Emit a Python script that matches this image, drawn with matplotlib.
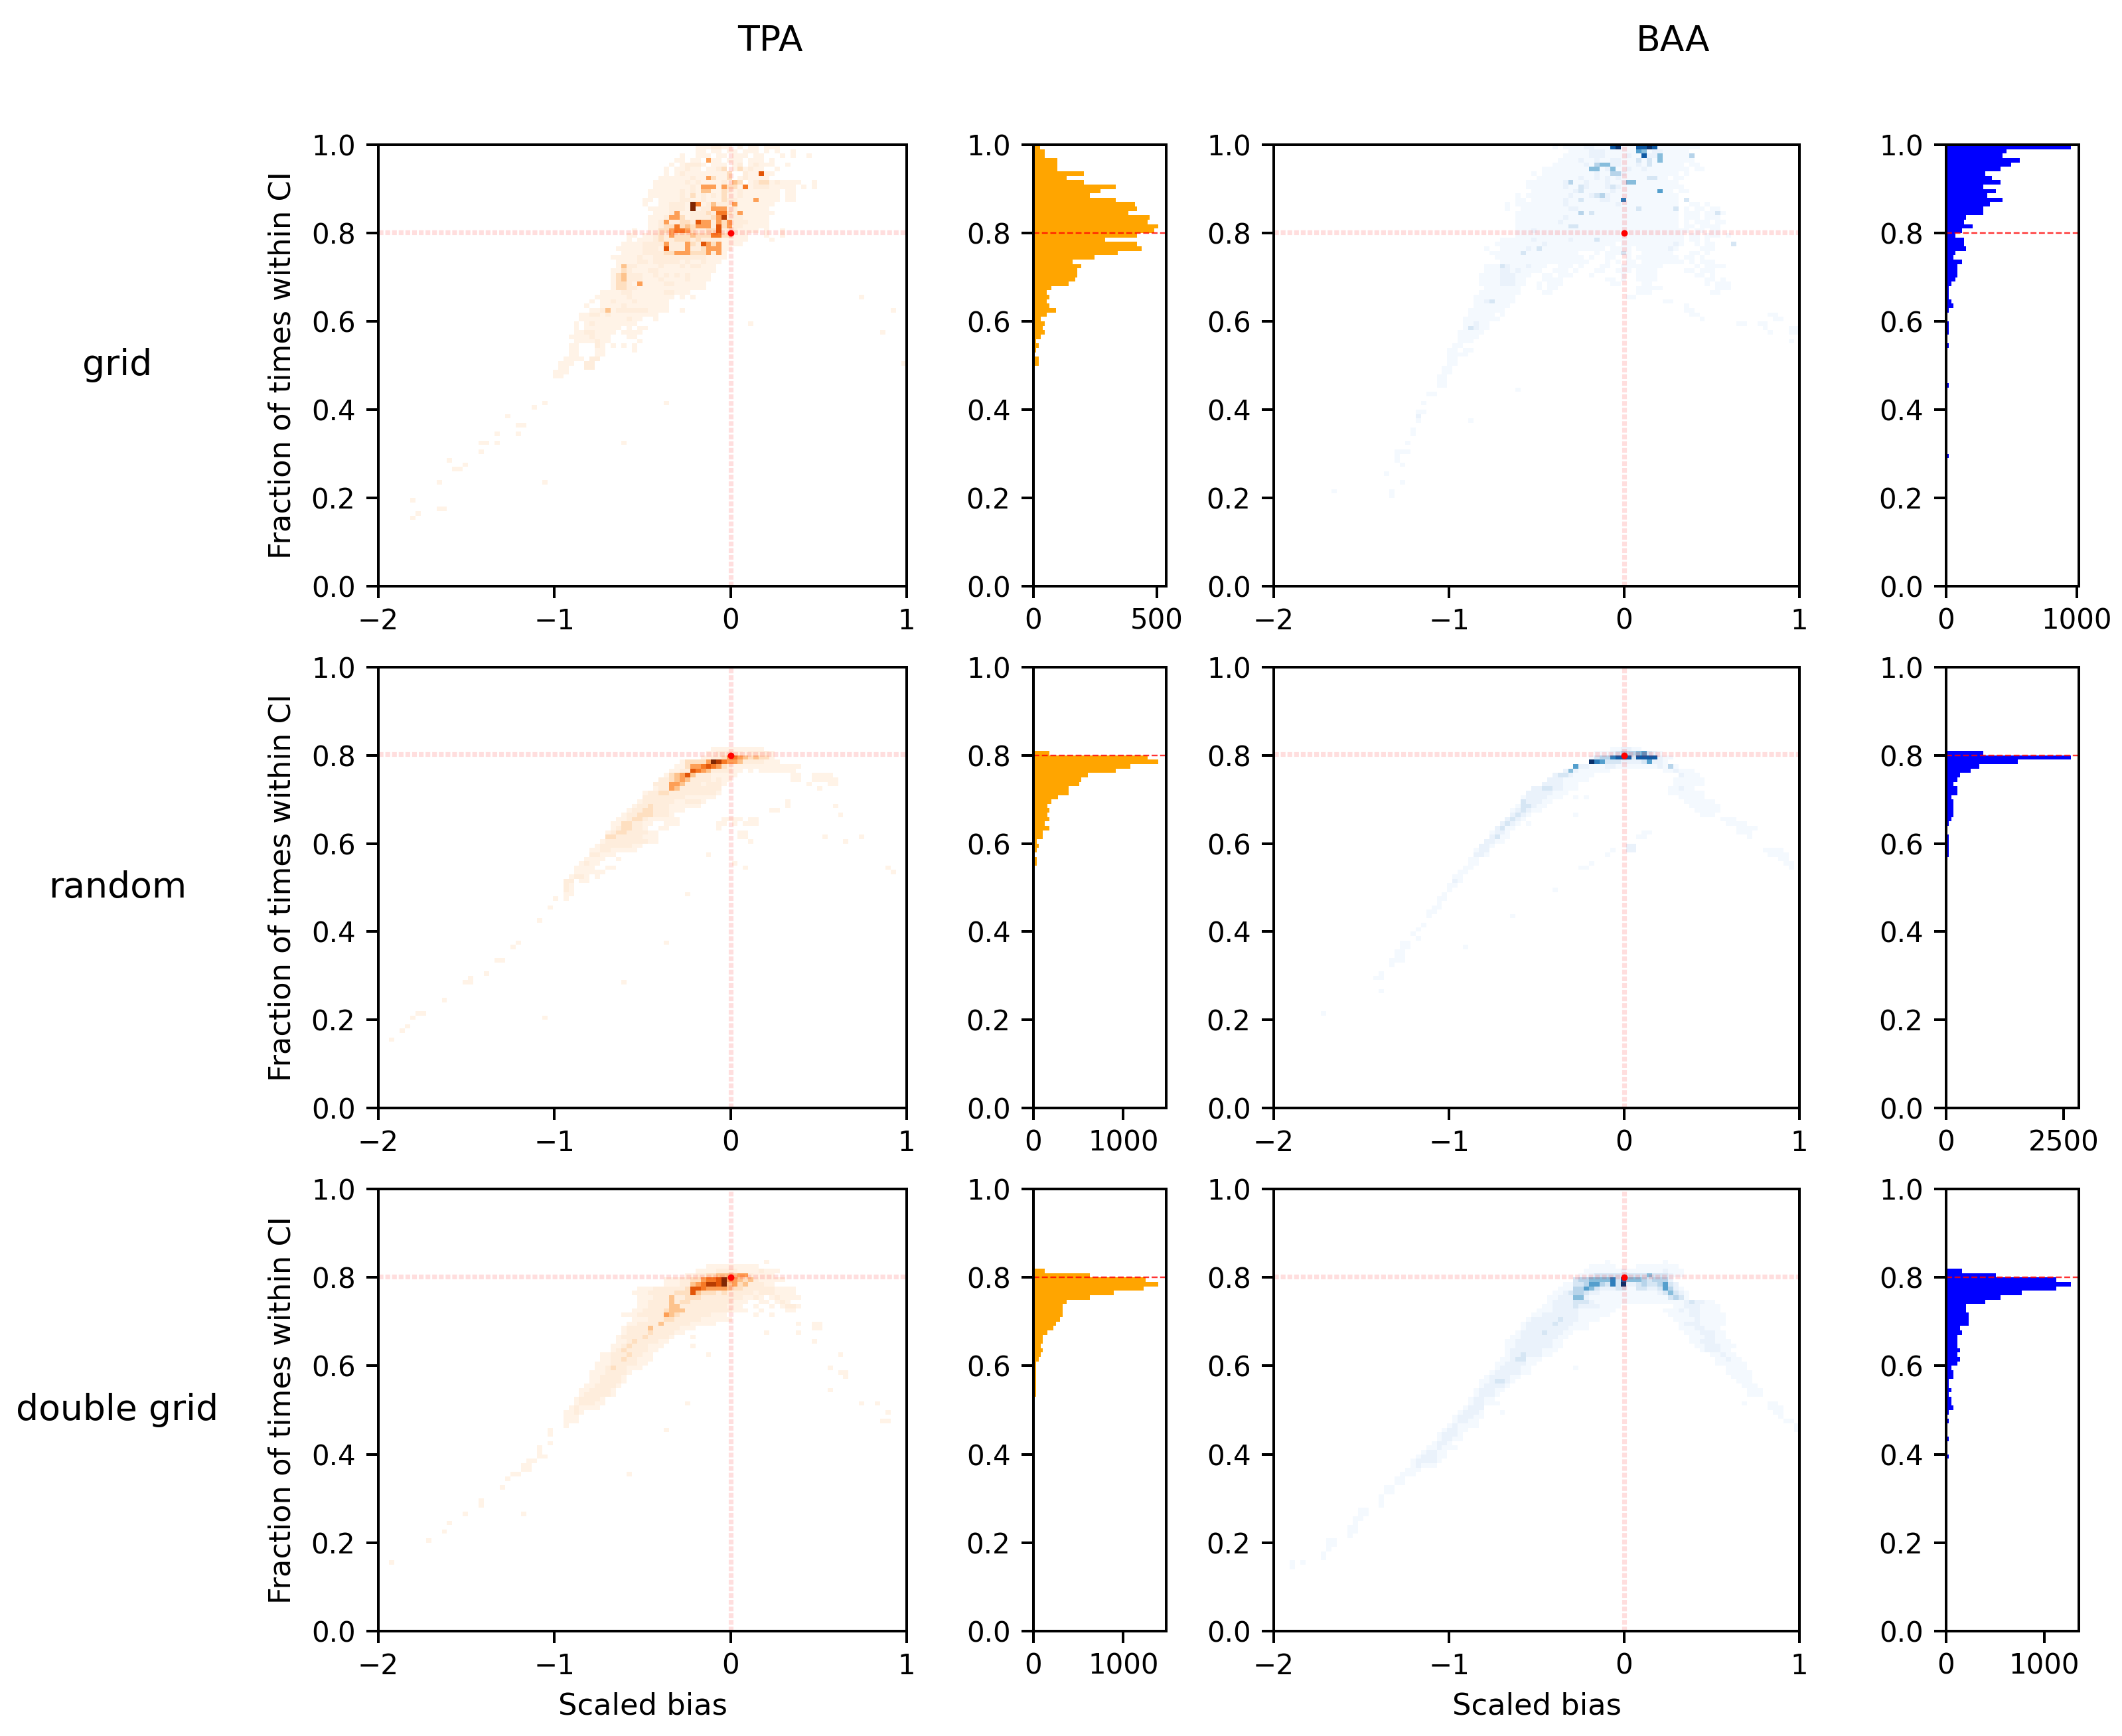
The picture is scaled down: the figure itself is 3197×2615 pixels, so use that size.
import numpy as np
import matplotlib
matplotlib.use('Agg')
import matplotlib.pyplot as plt

W, H = 3197, 2615

plt.rcParams['axes.linewidth'] = 1.0
plt.rcParams['xtick.major.size'] = 4.4
plt.rcParams['ytick.major.size'] = 4.4
plt.rcParams['xtick.major.width'] = 1.0
plt.rcParams['ytick.major.width'] = 1.0
plt.rcParams['ytick.major.pad'] = 4.2
plt.rcParams['xtick.labelsize'] = 10.5
plt.rcParams['ytick.labelsize'] = 10.5

# heatmap rows: (row from the top, first column, cell levels)
# 100 x 100 bins, x -2..1, y 0..1. level 0 = empty cell
level_counts = [0, 0.5, 2, 5, 9, 13, 17, 21, 25, 30]

tpa_grid_rows = [
    (0,60,"1112211010110111"),(1,60,"1101101101110101001"),(2,57,"1001110110111011000101001"),
    (3,56,"110110511011101110100"),(4,55,"1012221011101201211100100"),(5,54,"101121101123013121100100"),
    (6,54,"10121111111130021111100"),(7,53,"11111121113113012111100"),(8,52,"1111112121111214301233121111001"),
    (9,52,"1111111212111133111222111110101"),(10,51,"11111121213311321211111110110"),(11,51,"1111112131212131121111111011"),
    (12,50,"11011112211211132211111111011"),(13,50,"10011222112122222111111110"),(14,50,"011112221212222222111111000"),
    (15,50,"00111211122232223221111110"),(16,50,"01112223122223222221111100"),(17,49,"00112222332322233322211110"),
    (18,49,"0011233332333222322211111"),(19,48,"1001133334332233322211110100100"),(20,47,"110112322333433334331110001001"),
    (21,47,"1011123223332322221111100001"),(22,46,"11112222122223222321111"),(23,45,"1111122212222122322111"),
    (24,45,"011112222332213332211"),(25,44,"1111121122222222221111"),(26,44,"0111122122222121121110"),
    (27,43,"00112211112111212211100"),(28,43,"01132111221111111111100"),(29,44,"13322211212121211110"),
    (30,44,"13322211121111211110"),(31,44,"133211111122111111"),(32,43,"0133221111111111111"),
    (33,42,"11112211111122111"),(34,41,"1111112111111110101"),(35,40,"1011211121111110"),
    (36,39,"1001111211111111"),(37,39,"01121122222211110010"),(38,38,"1122121111111110"),
    (39,38,"111111111211001"),(40,37,"1012111111110"),(41,37,"10111111101011"),(42,37,"1122111101111"),
    (43,36,"11112111000110"),(44,36,"01111211000001"),(45,36,"1100021010101"),(46,36,"1100011000001"),
    (47,35,"0110001100000"),(48,35,"11110220"),(49,34,"11100220"),(50,34,"11000220"),(51,33,"1110"),(52,33,"110"),
    (58,31,"1"),(59,29,"1"),(61,24,"1"),(63,26,"11"),(65,22,"1"),(65,26,"1"),(67,19,"11"),(67,22,"1"),(69,19,"1"),
    (71,13,"1"),(72,16,"1"),(73,14,"11"),(76,11,"1"),(80,6,"1"),(82,11,"11"),(83,7,"1"),(84,6,"1"),
    (58,54,"1"),(67,46,"1"),(76,31,"1"),(34,91,"1"),(37,97,"1"),(42,95,"1"),(49,99,"1"),(40,70,"1"),
]
tpa_grid_peaks = [
    (6,72,7),(7,62,5),(9,61,5),(9,62,5),(9,63,5),(9,65,5),(9,69,6),(10,61,4),(10,62,4),(12,71,5),(13,59,9),(13,60,6),
    (13,63,4),(13,67,5),(14,59,9),(14,63,5),(14,64,5),(14,65,5),(15,56,5),(15,64,6),(15,65,6),(15,68,5),(16,55,5),
    (16,56,5),(16,64,5),(16,65,8),(17,54,5),(17,60,7),(17,61,5),(17,62,5),(17,64,5),(17,66,5),(18,56,6),(18,58,4),
    (18,60,5),(18,61,5),(18,62,5),(18,64,7),(18,66,5),(19,55,5),(19,56,6),(19,57,6),(19,58,5),(19,64,7),(20,55,5),
    (20,63,6),(20,64,6),(22,54,5),(22,58,5),(22,61,7),(22,62,5),(22,64,5),(23,54,7),(23,58,5),(23,62,5),(23,63,5),
    (23,64,5),(24,56,5),(24,57,5),(24,58,5),(24,62,5),(24,64,5),(31,49,5),(29,46,4),(30,46,4),(27,46,4),(37,43,4),
]

baa_grid_rows = [
    (0,53,"1011112211111111111111111111"),(1,56,"11112221111111112211111"),(2,55,"1111122211112112221111111"),
    (3,54,"11112112112211121311111111"),(4,53,"1111112121122111213111111011"),(5,51,"1111111111112211211211111111011"),
    (6,49,"101111111111211122111111111101"),(7,49,"01111111121121212111111111011"),(8,48,"11111112211211121121111111111"),
    (9,48,"1111111211221112121111111111110"),(10,48,"0111111112211111211111111111011"),(11,46,"10111111112111211211111111111110"),
    (12,46,"11011111121121112211111111111110"),(13,44,"10111111111211111111121111111111100"),(14,44,"1001111111112211111111111111111110"),
    (15,44,"00111111111111211111111111111111100"),(16,44,"0011111111121111111111111111111110"),(17,44,"00111111112111111111111111111111100"),
    (18,44,"00111111111121111111111111111111100"),(19,44,"0011121111111111111111111111111111"),(20,43,"00011111111111111111111111111111111"),
    (21,42,"011111121111112111111111111111111111"),(22,41,"01111111112111111111111101111111111210"),(23,40,"100111112111111111111110111101111112100"),
    (24,40,"01111111111111111100010111110011111100"),(25,41,"011111111111111111010011001011111111"),(26,41,"00111111111111111110001010110111111110"),
    (27,40,"1112211121110011101000110011111111"),(28,40,"11122121111001110100011001110111100"),(29,39,"1111222111001101110001000001001111"),
    (30,39,"1111222110001111000000001101001111"),(31,39,"111122211001011100000000011000011"),(32,40,"1111111000101100000000000000011111"),
    (33,39,"111111110000110000000000000000111"),(34,38,"1111111100000000000000000000011"),(35,38,"112211110000000000000000000000000000110"),
    (36,38,"11111110000000000000000000000000000000001"),(37,37,"1111111000000000000000000000000000000000011"),(38,37,"11111010000000000000000000000000000000000011"),
    (39,36,"1111111000000000000000000000000000000000000001"),(40,36,"1121100"),(41,36,"122110"),(42,35,"11111"),(43,35,"1111"),
    (44,35,"1110"),(45,34,"11"),(46,33,"11011"),(47,33,"1111"),(48,33,"11"),(49,33,"11"),(50,32,"11"),(51,32,"11"),(52,31,"11"),(53,31,"11"),
    (54,31,"11"),(56,29,"11"),(58,28,"1"),(60,27,"11"),(61,27,"2"),(62,27,"1"),(64,26,"1"),(65,26,"1"),(67,25,"1"),(69,23,"111"),(70,23,"1"),
    (71,23,"1"),(72,24,"1"),(74,21,"1"),(76,24,"1"),(78,22,"1"),(79,22,"1"),(78,11,"1"),(62,37,"1"),(55,46,"1"),(40,88,"11"),(41,93,"1"),
    (42,94,"1"),(40,92,"11"),(41,98,"11"),(42,98,"11"),(44,98,"1"),(38,94,"11"),(39,95,"11"),
    (13,79,"1101"),(14,78,"1011011"),(15,78,"11101101"),(16,78,"1110111"),(17,78,"10111011"),(18,78,"1101111"),(19,78,"1011011"),
    (20,78,"011011101"),(21,78,"01101"),(22,80,"1011"),(23,80,"0111"),(24,78,"01101"),(25,78,"1101"),(26,79,"10111"),(27,80,"1011110"),
    (28,78,"110111"),(29,80,"1101"),(30,82,"1101"),(31,82,"10111"),(32,84,"111"),(33,83,"11"),
]
baa_grid_peaks = [
    (0,64,8),(0,65,9),(0,69,8),(0,70,8),(0,71,9),(0,72,8),(1,69,6),(1,70,5),(2,70,8),(2,73,5),(2,79,4),(3,69,3),(3,73,5),
    (4,62,5),(4,61,4),(4,63,5),(5,60,5),(5,61,5),(5,64,5),(6,64,4),(6,65,4),(7,71,3),(7,72,3),(8,56,4),(8,67,5),(8,68,5),
    (9,58,3),(9,64,3),(10,73,6),(11,62,4),(12,66,7),(12,58,3),(12,78,3),(15,58,4),(15,60,3),(14,69,3),(14,76,3),(15,84,3),
    (18,56,3),(21,61,3),(24,66,3),(22,87,3),(24,47,3),(23,50,3),(27,43,3),(35,41,3),(41,37,3),(18,57,3),(10,58,3),(11,61,3),
]

tpa_random_rows = [
    (18,63,"1111111111"),(19,62,"1122222122221"),(20,61,"11223565434331"),(21,57,"1333359865542222111"),
    (22,56,"113556765321111111111111"),(23,55,"112276542222110101111111"),(24,54,"13457422211111000000000000001111"),
    (25,53,"2234542222121100000000000000000111"),(26,52,"22255422212221000000000000000000011"),(27,52,"12254222222220"),
    (28,50,"1223322222222210"),(29,50,"22222222111111"),(30,49,"1222222112221"),(31,48,"1223222111111"),
    (32,47,"12233222111"),(33,46,"1223332221"),(34,45,"112332111111"),(35,44,"1133221100111"),(36,44,"12332210011"),
    (37,43,"1233222211"),(38,43,"3322222111"),(39,42,"12222222211"),(40,41,"122222211"),(41,40,"112211111"),
    (42,40,"2211100"),(43,39,"1111001"),(44,38,"1211000"),(45,37,"11110011"),(46,37,"111111"),(47,36,"122101"),
    (48,35,"22011"),(49,35,"21"),(50,35,"21"),(51,35,"11"),(52,35,"1"),
    (52,33,"1"),(54,32,"1"),(57,30,"1"),(62,26,"1"),(63,25,"1"),(66,22,"11"),(69,20,"1"),(70,17,"1"),(71,16,"11"),
    (75,12,"1"),(78,7,"11"),(79,6,"1"),(81,5,"1"),(82,4,"1"),(84,2,"1"),(51,58,"1"),(62,54,"1"),(71,46,"1"),(79,31,"1"),
    (42,62,"1"),(45,69,"1"),(44,67,"1"),(30,77,"1"),(31,77,"1"),(32,74,"11"),(31,86,"1"),(33,87,"1"),(38,84,"1"),(39,88,"1"),
    (38,91,"1"),(45,96,"1"),(46,97,"1"),(34,65,"1111011"),(35,64,"11010111"),(36,64,"1"),(37,68,"11"),(38,68,"11"),(39,70,"1"),
    (25,78,"11"),(26,81,"1"),(27,83,"1"),(24,78,"11"),(25,82,"11"),
]

baa_random_rows = [
    (18,64,"112211"),(19,61,"1112344456321"),(20,60,"1344788838888211"),(21,60,"976333222236221"),(22,57,"62211122111111112141"),
    (23,55,"2521111110000000000112111"),(24,53,"2332111100000000000000002111"),(25,52,"222111110000000000000000111111"),
    (26,51,"2222111000000000000000000111111"),(27,49,"2233221110000000000000000011211"),(28,48,"2222211100000000000000000001111111"),
    (29,47,"12222111000000000000000000000011111"),(30,47,"3222110000000000000000000000000111111"),(31,46,"133211000000000000000000000000000111111"),
    (32,45,"1232110000000000000000000000000000011111"),(33,45,"232100000000000000000000000000000000111"),(34,44,"2321"),(34,85,"111"),
    (35,43,"2321"),(35,86,"1111"),(36,42,"2311"),(36,88,"1111"),(37,41,"1221"),(37,70,"11"),(37,88,"111"),(38,41,"2311"),(38,69,"11"),(38,90,"1"),
    (39,40,"2211"),(40,39,"221"),(40,67,"22"),(41,38,"122"),(41,64,"1"),(41,67,"22"),(41,93,"1111"),(42,38,"221"),(42,63,"1"),(42,94,"1111"),
    (43,37,"11"),(43,96,"11"),(44,37,"11"),(44,60,"1"),(44,97,"11"),(45,36,"11"),(45,58,"11"),(45,98,"1"),(46,35,"11"),(47,34,"11"),(48,34,"21"),
    (49,33,"11"),(50,33,"1"),(50,53,"1"),(51,32,"1"),(52,31,"11"),(53,31,"1"),(54,30,"11"),(55,29,"11"),(56,29,"1"),(56,45,"1"),(58,28,"1"),
    (59,27,"1"),(60,26,"1"),(61,27,"1"),(62,24,"11"),(63,24,"11"),(63,36,"1"),(64,23,"11"),(65,23,"11"),(66,22,"111"),(67,22,"1"),(69,20,"1"),
    (70,19,"11"),(73,20,"1"),(78,9,"1"),(35,48,"1"),(33,57,"1"),(29,57,"1"),(29,59,"1"),
]

tpa_double_rows = [
    (16,73,"1"),(17,62,"11111111110"),(18,60,"1111222211112111"),(19,58,"11223344445521111"),
    (20,54,"11122335667955434211111"),(21,54,"111224568879453422211"),(22,49,"111222222377655554332222221111"),
    (23,48,"1112222233374333232222212221111"),(24,49,"11122242233322222222112101211110"),(25,49,"11222242332222222211100110121"),
    (26,49,"1122224422222222211100100101221"),(27,48,"1122223444222222222111001000011"),(28,46,"111222225432222221110000010010"),
    (29,48,"1112223322222111111"),(30,47,"11222242222211111"),(31,46,"122224222221110"),(32,46,"122223222211"),
    (33,45,"12222322221"),(34,45,"11232222110"),(35,44,"1123222111"),(36,43,"012322221100"),(37,42,"1122232211"),
    (38,42,"1122322111"),(39,41,"1112222211"),(40,41,"112322111"),(41,40,"11122221"),(42,40,"1122221"),(43,40,"112222100"),
    (44,39,"1122221"),(45,38,"11222210"),(46,38,"1222221"),(47,37,"122221"),(48,37,"122211"),(49,36,"121111"),(50,35,"11210"),
    (51,35,"1110"),(52,35,"111"),(53,35,"1"),
    (54,32,"1"),(55,32,"1"),(57,32,"1"),(58,30,"1"),(59,30,"1"),(60,30,"11"),(61,28,"11"),(62,27,"11"),(63,27,"11"),(64,25,"11"),
    (65,24,"1"),(67,23,"1"),(70,19,"1"),(71,19,"1"),(73,16,"1"),(75,13,"1"),(79,9,"1"),(77,12,"1"),(84,2,"1"),(48,58,"1"),(54,54,"1"),
    (64,47,"1"),(73,27,"1"),(35,59,"1"),(37,62,"1"),(33,59,"1"),(32,73,"1"),(30,79,"1"),(30,82,"11"),(31,82,"11"),(32,79,"1"),(34,82,"1"),
    (37,87,"1"),(40,85,"1"),(41,87,"11"),(42,88,"1"),(45,85,"1"),(48,91,"1"),(48,94,"1"),(50,96,"1"),(52,95,"11"),
]

baa_double_rows = [
    (16,63,"1"),(16,74,"1"),(17,60,"11111"),(17,69,"11111111"),(18,59,"1111111211111112111"),(19,58,"11233333333335333211"),
    (20,57,"3445555738555434442"),(21,55,"1133466437392234334632"),(22,54,"111446532223311332236421"),
    (23,53,"11234432211111111111235321"),(24,52,"112225521111111111111113431"),(25,52,"12222333211111111111111111232211"),
    (26,51,"1122223222211110000000000112221111"),(27,50,"11122222111111100000000011121221111"),(28,49,"1122222221111110000000000011112211111"),
    (29,48,"12222232221111000000000000001111211111"),(30,47,"1222223222111000000000000000001222111110"),(31,47,"12222222211110000000000000000011122111"),
    (32,46,"1222232221100000000000000000000011122211"),(33,45,"11222222211000000000000000000000001112211"),(34,44,"1122222221100000000000000000000000011222111"),
    (35,44,"11222222211000000000000000000000000011222111"),(36,44,"1222222111000000000000000000000000000122211"),(37,44,"12232221100"),(37,83,"11211"),
    (38,43,"11233111"),(38,84,"11211"),(39,42,"11222211"),(39,84,"111111"),(40,42,"1222211"),(40,86,"1111"),(41,41,"12222211"),(41,86,"11111"),
    (42,40,"122221100"),(42,87,"1111"),(43,39,"112332100"),(43,88,"111"),(44,39,"122221"),(44,89,"111"),(45,38,"122211"),(45,90,"111"),
    (46,38,"12221"),(46,90,"111"),(47,37,"12211"),(48,37,"122111"),(48,89,"1"),(48,94,"11"),(49,36,"1222"),(49,94,"111"),(50,35,"12221"),(50,95,"11"),
    (51,34,"122211"),(51,96,"1"),(52,34,"12211"),(52,97,"11"),(53,33,"121111"),(53,99,"1"),(54,32,"12211"),(54,99,"1"),(55,31,"12221"),(56,31,"12211"),
    (57,30,"1221"),(58,29,"112111"),(59,28,"12211"),(60,27,"122211"),(61,26,"122221"),(62,26,"12111"),(63,25,"111"),(64,24,"111"),(65,23,"11"),
    (66,23,"11"),(67,21,"11"),(68,21,"11"),(69,20,"1"),(70,20,"1"),(71,20,"1"),(72,16,"11"),(73,16,"11"),(74,15,"11"),(75,15,"1"),(76,14,"11"),
    (77,14,"11"),(78,14,"1"),(79,10,"11"),(80,10,"11"),(81,10,"1"),(82,9,"1"),(83,9,"1"),(84,3,"1"),(84,5,"1"),(85,3,"1"),(50,43,"1"),(40,57,"1"),
]

# histogram bar lengths, bins of 0.01 going down from 1.0
tpa_grid_hist = [27,46,46,98,98,98,203,134,203,332,272,229,332,411,420,384,471,462,506,488,420,289,420,437,341,246,159,194,177,177,
                 168,143,73,55,64,55,64,90,55,29,46,38,46,29,10,21,10,0,21,21]
baa_grid_hist = [958,464,430,562,498,415,302,351,415,285,383,317,432,334,285,285,154,137,203,122,71,137,137,154,71,56,122,88,88,88,
                 71,39,22,22,22,39,56,22,0,0,22,22,22,0,0,22,0,0,0,0,0,0,0,0,22,0,0,0,0,0,0,0,0,0,0,0,0,0,0,0,22]
tpa_random_hist = [0]*19 + [177,1272,1393,1081,914,607,533,509,393,393,273,201,152,177,152,177,128,177,106,106,34,59,34,0,34,34]
baa_random_hist = [0]*19 + [793,2659,1524,703,521,291,244,155,244,244,108,155,155,155,155,108,61,0,0,61,61,61,61,61]
tpa_double_hist = [0]*18 + [128,629,1248,1393,1226,892,629,369,322,322,322,297,248,224,152,106,106,81,106,81,59,30,30,30,30,30,30,30,30]
baa_double_hist = [0]*18 + [162,510,1121,1274,1121,771,553,402,204,204,227,227,227,139,162,117,117,117,139,117,139,117,52,74,74,29,29,52,
                            29,52,52,74,29,0,29,0,0,0,29,0,0,0,29]

row_names = ['grid', 'random', 'double grid']
col_names = ['TPA', 'BAA']
heat_rows = [[tpa_grid_rows, baa_grid_rows], [tpa_random_rows, baa_random_rows], [tpa_double_rows, baa_double_rows]]
heat_peaks = [[tpa_grid_peaks, baa_grid_peaks], [[], []], [[], []]]
hists = [[tpa_grid_hist, baa_grid_hist], [tpa_random_hist, baa_random_hist], [tpa_double_hist, baa_double_hist]]
hist_xmax = [[537, 1017], [1479, 2824], [1479, 1353]]
hist_ticks = [[[0, 500], [0, 1000]], [[0, 1000], [0, 2500]], [[0, 1000], [0, 1000]]]

# axes edges in pixels
row_top = [218, 1005, 1791]
row_bot = [883, 1669, 2457]
heat_x = [(570, 1366), (1919, 2711)]
hist_x = [(1557, 1757), (2932, 3132)]


def add_axes_px(fig, x0, x1, top, bot):
    return fig.add_axes([x0 / W, 1 - bot / H, (x1 - x0) / W, (bot - top) / H])


def build_grid(rows, peaks):
    grid = np.zeros((100, 100))
    for k, start, cells in rows:
        for j, c in enumerate(cells):
            if c != '0':
                grid[99 - k, start + j] = level_counts[int(c)]
    for k, i, lev in peaks:
        grid[99 - k, i] = level_counts[lev]
    return np.ma.masked_equal(grid, 0)


fig = plt.figure(figsize=(W / 288, H / 288), dpi=288)
xedges = np.linspace(-2, 1, 101)
yedges = np.linspace(0, 1, 101)
ybins = 0.995 - 0.01 * np.arange(100)

for r in range(3):
    for c in range(2):
        ax = add_axes_px(fig, heat_x[c][0], heat_x[c][1], row_top[r], row_bot[r])
        grid = build_grid(heat_rows[r][c], heat_peaks[r][c])
        ax.pcolormesh(xedges, yedges, grid, cmap=['Oranges', 'Blues'][c], vmin=0, vmax=30)
        ax.axhline(0.802, color='red', ls=(0, (1, 0.4)), lw=1.8, alpha=0.13)
        ax.axvline(0, color='red', ls=(0, (1, 0.4)), lw=1.8, alpha=0.13)
        ax.scatter([0], [0.8], color='red', s=6, linewidths=0, zorder=3)
        ax.set_xlim(-2, 1)
        ax.set_ylim(0, 1)
        ax.set_xticks([-2, -1, 0, 1])
        if c == 0:
            ax.set_ylabel('Fraction of times within CI', fontsize=11.2, labelpad=5.5)
        if r == 2:
            ax.set_xlabel('Scaled bias', fontsize=11.2, labelpad=4.5)

        ah = add_axes_px(fig, hist_x[c][0], hist_x[c][1], row_top[r], row_bot[r])
        vals = hists[r][c]
        ah.barh(ybins[:len(vals)], vals, height=0.01, color=['orange', 'blue'][c])
        ah.axhline(0.8, color='red', ls='--', lw=0.6, alpha=0.8)
        ah.set_xlim(0, hist_xmax[r][c])
        ah.set_ylim(0, 1)
        ah.set_xticks(hist_ticks[r][c])

for name, x in zip(col_names, [1160, 2520]):
    fig.text(x / W, 1 - 62 / H, name, fontsize=13.4, ha='center', va='center')
for name, y in zip(row_names, [550, 1337, 2124]):
    fig.text(177 / W, 1 - y / H, name, fontsize=13.4, ha='center', va='center')

fig.savefig('out.png', dpi=288)
